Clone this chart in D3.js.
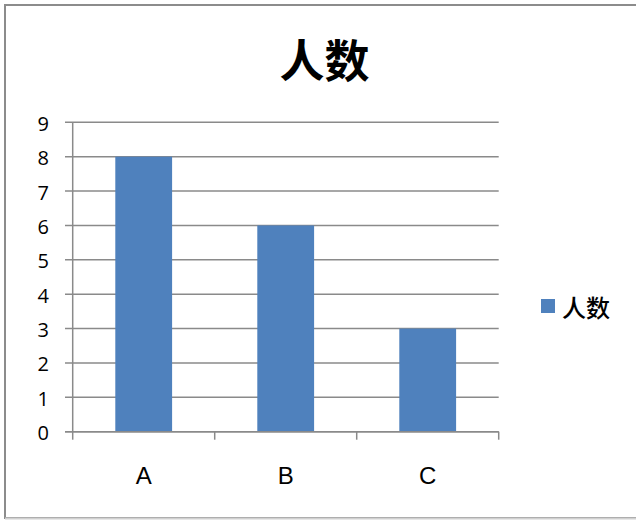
<!DOCTYPE html>
<html>
<head>
<meta charset="utf-8">
<script src="https://cdn.jsdelivr.net/npm/d3@7"></script>
<style>
html,body{margin:0;padding:0;background:#fff;}
svg{display:block;}
</style>
</head>
<body>
<svg id="chart" width="636" height="520"></svg>
<script>
const categories = ["A", "B", "C"];
const values = [8, 6, 3];
const yTicks = [0, 1, 2, 3, 4, 5, 6, 7, 8, 9];
const seriesName = "人数";
const titleText = "人数";

(function () {
const svg = d3.select("#chart");

// outer border (right side clipped)
svg.append("rect")
  .attr("x", 5).attr("y", 5)
  .attr("width", 700).attr("height", 513)
  .attr("fill", "#fff")
  .attr("stroke", "#8c8c8c").attr("stroke-width", 2);
svg.append("line")
  .attr("x1", 5).attr("x2", 636).attr("y1", 518.5).attr("y2", 518.5)
  .attr("stroke", "#d0d0d0").attr("stroke-width", 2);

const pL = 72.7, pR = 498.7, pT = 122.3, pB = 431.7;

const y = d3.scaleLinear().domain([0, 9]).range([pB, pT]);
const x = d3.scaleBand().domain(categories).range([pL, pR]).padding(0);

// gridlines
svg.append("g").selectAll("line").data(yTicks).join("line")
  .attr("x1", 65).attr("x2", pR)
  .attr("y1", d => y(d)).attr("y2", d => y(d))
  .attr("stroke", "#8a8a8a").attr("stroke-width", 1.5);

// bars
const bw = x.bandwidth() * 0.4;
svg.append("g").selectAll("rect").data(values).join("rect")
  .attr("x", (d, i) => x(categories[i]) + (x.bandwidth() - bw) / 2)
  .attr("width", bw)
  .attr("y", d => y(d))
  .attr("height", d => y(0) - y(d))
  .attr("fill", "#4f81bd");

// y axis line
svg.append("line")
  .attr("x1", pL).attr("x2", pL).attr("y1", pT).attr("y2", pB)
  .attr("stroke", "#8a8a8a").attr("stroke-width", 1.5);

// x axis line
svg.append("line")
  .attr("x1", 65).attr("x2", pR).attr("y1", pB).attr("y2", pB)
  .attr("stroke", "#8a8a8a").attr("stroke-width", 1.5);

// x ticks at band boundaries
const bounds = categories.map(c => x(c)).concat([pR]);
svg.append("g").selectAll("line").data(bounds).join("line")
  .attr("x1", d => d).attr("x2", d => d)
  .attr("y1", pB).attr("y2", pB + 8)
  .attr("stroke", "#8a8a8a").attr("stroke-width", 1.5);

// y tick labels
svg.append("g").selectAll("text").data(yTicks).join("text")
  .attr("x", 49).attr("y", d => y(d) + 1)
  .attr("text-anchor", "end").attr("dominant-baseline", "central")
  .attr("font-family", "'Open Sans', 'Liberation Sans', sans-serif")
  .attr("font-size", 20).attr("fill", "#000")
  .text(d => d);

// category labels
svg.append("g").selectAll("text").data(categories).join("text")
  .attr("x", d => x(d) + x.bandwidth() / 2).attr("y", 475)
  .attr("text-anchor", "middle").attr("dominant-baseline", "central")
  .attr("font-family", "'Liberation Sans', Arial, sans-serif")
  .attr("font-size", 24).attr("fill", "#000")
  .text(d => d);

// title
svg.append("text")
  .attr("x", 324.5).attr("y", 58)
  .attr("text-anchor", "middle").attr("dominant-baseline", "central")
  .attr("font-family", "'Noto Sans CJK SC', sans-serif")
  .attr("font-weight", "bold").attr("font-size", 45).attr("fill", "#000")
  .text(titleText);

// legend
svg.append("rect")
  .attr("x", 541).attr("y", 299).attr("width", 14).attr("height", 14)
  .attr("fill", "#4f81bd");
svg.append("text")
  .attr("x", 562).attr("y", 306)
  .attr("dominant-baseline", "central")
  .attr("font-family", "'Noto Sans CJK SC', sans-serif")
  .attr("font-weight", 500)
  .attr("font-size", 24).attr("fill", "#000")
  .text(seriesName);
})();
</script>
</body>
</html>
